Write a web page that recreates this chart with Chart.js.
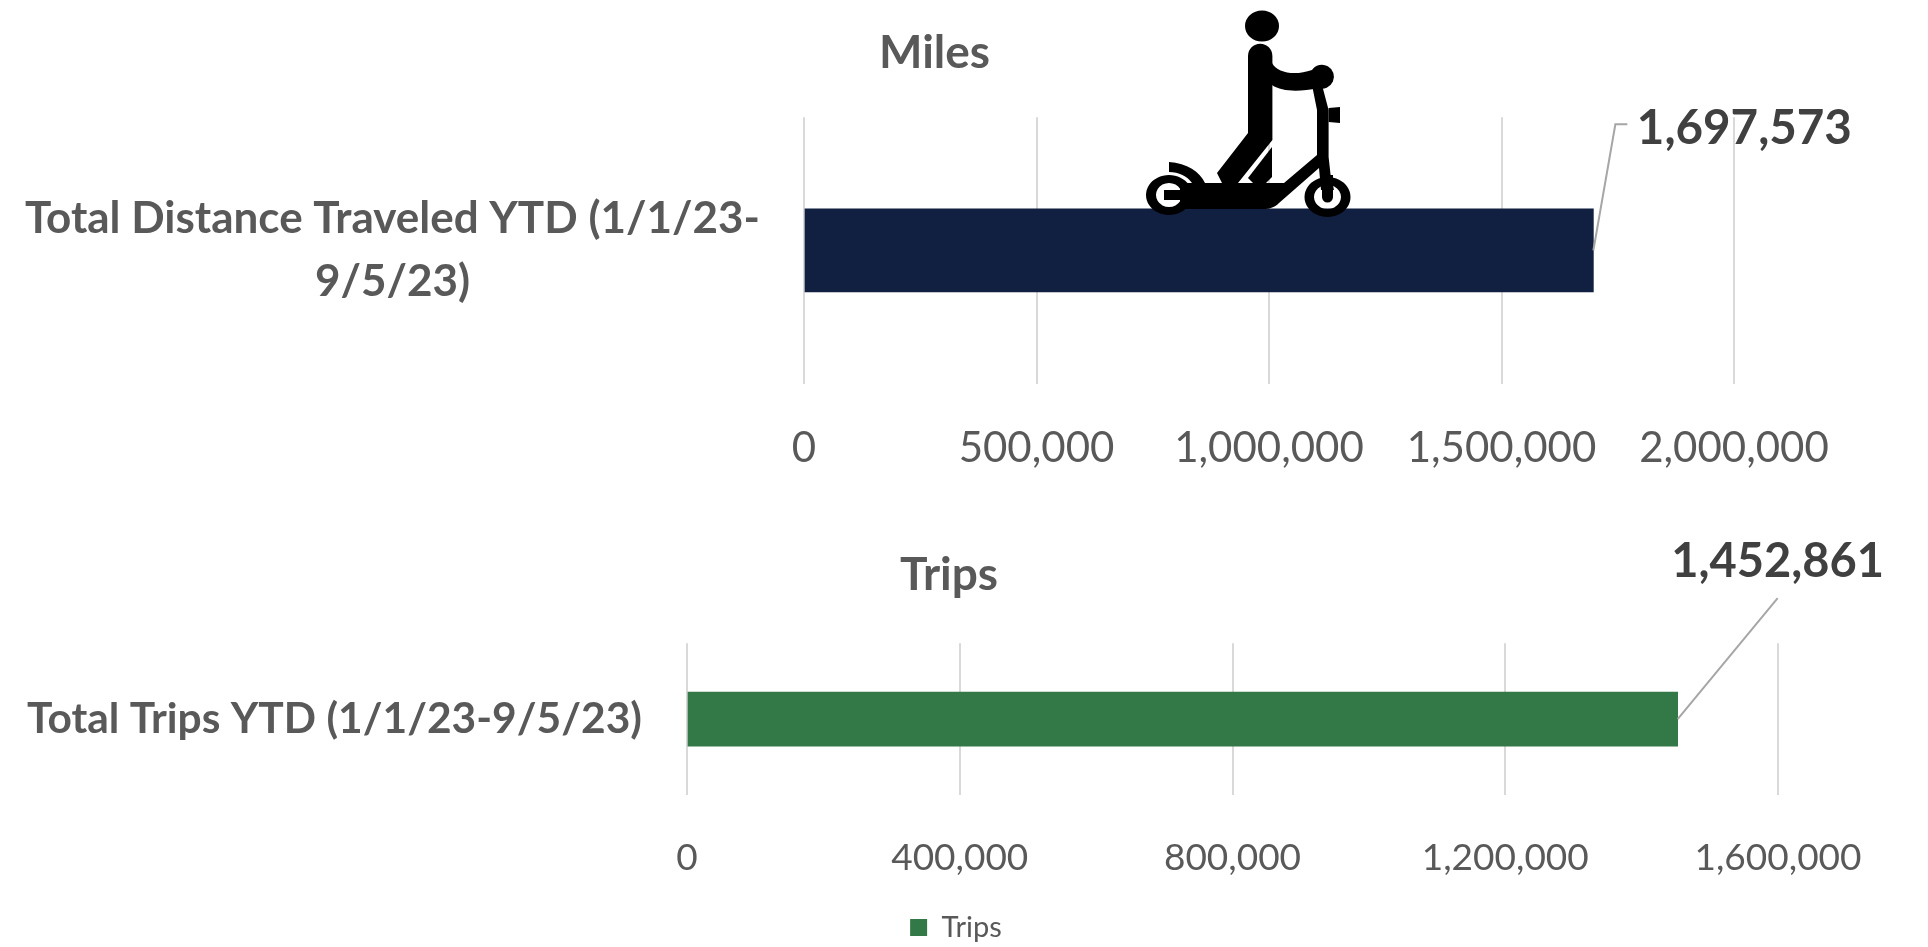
<!DOCTYPE html>
<html>
<head>
<meta charset="utf-8">
<title>Miles and Trips</title>
<script src="https://cdn.jsdelivr.net/npm/chart.js@4"></script>
<style>
  html, body { margin: 0; padding: 0; background: #fff; overflow: hidden; }
  body { position: relative; width: 1928px; height: 947px; }
  canvas { position: absolute; left: 0; }
  #milesChart { top: 0; }
  #tripsChart { top: 480px; }
  #scooter { position: absolute; left: 1130px; top: 0; }
</style>
</head>
<body>
<canvas id="milesChart" width="1928" height="490"></canvas>
<canvas id="tripsChart" width="1928" height="472"></canvas>

<!-- scooter rider icon, sits on top of the miles bar -->
<svg id="scooter" width="240" height="225" viewBox="1130 0 240 225">
  <ellipse cx="1262" cy="26" rx="17" ry="15.5"/>
  <path d="M1248 133V56a12 12 0 0 1 24.400 0V140L1238 183H1222L1217 173Z"/>
  <path d="M1272 147V177L1266 183H1253L1248 178Z"/>
  <path d="M1272 63C1277 73 1295 76 1312 70A12 12 0 1 1 1318 88C1300 92 1282 92 1272 85Z"/>
  <path d="M1312 85L1317 110V155L1284 183H1205L1187 209H1263C1270 209 1275 207 1279 203L1319 168L1321 190H1334L1330.600 175L1328.600 157V110L1322 85Z"/>
  <path d="M1328.600 108L1340 107V123L1328.600 122Z"/>
  <path d="M1169 162C1187 163 1200 172 1205 183H1192C1187 176 1179 172 1169 172Z"/>
  <path d="M1180 183H1210V209H1180Z"/>
  <path fill-rule="evenodd" d="M1169 175a23 20 0 1 0 0.010 0ZM1169 183a13 12 0 1 1-0.010 0Z"/>
  <path d="M1164 190H1182V200H1164Z"/>
  <path fill-rule="evenodd" d="M1327.500 177a23 20 0 1 0 0.010 0ZM1327.500 185a13.500 12 0 1 1-0.010 0Z"/>
  <path d="M1322 175H1333V197a5.500 5.500 0 0 1-11 0Z"/>
</svg>

<script>
// miles chart data
const milesLabels = [["Total Distance Traveled YTD (1/1/23-", "9/5/23)"]];
const milesValues = [1697573];
const milesTicks = [0, 500000, 1000000, 1500000, 2000000];

// trips chart data
const tripsLabels = ["Total Trips YTD (1/1/23-9/5/23)"];
const tripsValues = [1452861];
const tripsTicks = [0, 400000, 800000, 1200000, 1600000];

const fontName = "Lato, 'Open Sans', sans-serif";
const grey = "#595959";

function fmt(v) {
  return Number(v).toLocaleString("en-US");
}

// draws the big value and its leader line next to the end of the bar
const leaderLabel = {
  id: "leaderLabel",
  // title and legend are not centred on the canvas in the original
  afterLayout(chart, args, opts) {
    if (chart.titleBlock) {
      chart.titleBlock.left = 0;
      chart.titleBlock.right = opts.titleCentre * 2;
    }
    if (opts.legendCentre) {
      chart.legend.left = 0;
      chart.legend.right = opts.legendCentre * 2;
    }
  },
  afterDatasetsDraw(chart, args, opts) {
    const bar = chart.getDatasetMeta(0).data[0];
    const ctx = chart.ctx;
    ctx.save();
    ctx.strokeStyle = "#a6a6a6";
    ctx.lineWidth = 2;
    ctx.beginPath();
    ctx.moveTo(bar.x, bar.y);
    opts.bends.forEach((b) => ctx.lineTo(bar.x + b[0], bar.y + b[1]));
    ctx.stroke();
    ctx.fillStyle = "#404040";
    ctx.font = "bold " + opts.size + "px " + fontName;
    ctx.textAlign = "center";
    ctx.textBaseline = "middle";
    ctx.fillText(fmt(chart.data.datasets[0].data[0]), bar.x + opts.dx, bar.y + opts.dy);
    ctx.restore();
  },
};

function makeChart(id, cfg) {
  return new Chart(document.getElementById(id), {
    type: "bar",
    plugins: [leaderLabel],
    data: {
      labels: cfg.labels,
      datasets: [
        {
          label: cfg.series,
          data: cfg.values,
          backgroundColor: cfg.color,
          barThickness: cfg.thickness,
        },
      ],
    },
    options: {
      indexAxis: "y",
      responsive: false,
      animation: false,
      layout: { padding: { right: cfg.rightPad } },
      plugins: {
        title: {
          display: true,
          text: cfg.title,
          color: grey,
          font: { family: fontName, size: 46, weight: "bold", lineHeight: 1.2 },
          padding: cfg.titlePad,
        },
        legend: cfg.legend,
        tooltip: { enabled: false },
        leaderLabel: cfg.leader,
      },
      scales: {
        x: {
          min: cfg.ticks[0],
          max: cfg.ticks[cfg.ticks.length - 1],
          afterBuildTicks(scale) {
            scale.ticks = cfg.ticks.map((v) => ({ value: v }));
          },
          afterFit(scale) {
            scale.height = cfg.xHeight;
          },
          border: { display: false },
          grid: { color: "#d9d9d9", lineWidth: 2, drawTicks: false },
          ticks: {
            color: grey,
            font: { family: fontName, size: cfg.xSize },
            padding: cfg.xPad,
            maxRotation: 0,
            callback: (v) => fmt(v),
          },
        },
        y: {
          afterFit(scale) {
            scale.width = cfg.yWidth;
          },
          border: { display: false },
          grid: { display: false, drawTicks: false },
          ticks: {
            color: grey,
            crossAlign: "center",
            padding: cfg.yPad,
            font: { family: fontName, size: cfg.ySize, weight: "bold", lineHeight: 1.42 },
          },
        },
      },
    },
  });
}

makeChart("milesChart", {
  labels: milesLabels,
  values: milesValues,
  ticks: milesTicks,
  series: "Miles",
  title: "Miles",
  color: "#111f41",
  thickness: 83,
  rightPad: 194,
  titlePad: { top: 26, bottom: 36 },
  legend: { display: false },
  xHeight: 106,
  xPad: 40,
  xSize: 42,
  yWidth: 804,
  yPad: 44,
  ySize: 44,
  leader: { titleCentre: 934.5, bends: [[22, -126], [34, -126]], dx: 151, dy: -122, size: 47.5 },
});

makeChart("tripsChart", {
  labels: tripsLabels,
  values: tripsValues,
  ticks: tripsTicks,
  series: "Trips",
  title: "Trips",
  color: "#337947",
  thickness: 54,
  rightPad: 150,
  titlePad: { top: 68, bottom: 40 },
  legend: {
    display: true,
    position: "bottom",
    labels: {
      color: grey,
      boxWidth: 17,
      boxHeight: 17,
      padding: 10,
      font: { family: fontName, size: 29 },
    },
  },
  xHeight: 108,
  xPad: 41,
  xSize: 37,
  yWidth: 687,
  yPad: 45,
  ySize: 42.5,
  leader: { titleCentre: 949, legendCentre: 956, bends: [[100, -121]], dx: 100, dy: -157, size: 47 },
});
</script>
</body>
</html>
